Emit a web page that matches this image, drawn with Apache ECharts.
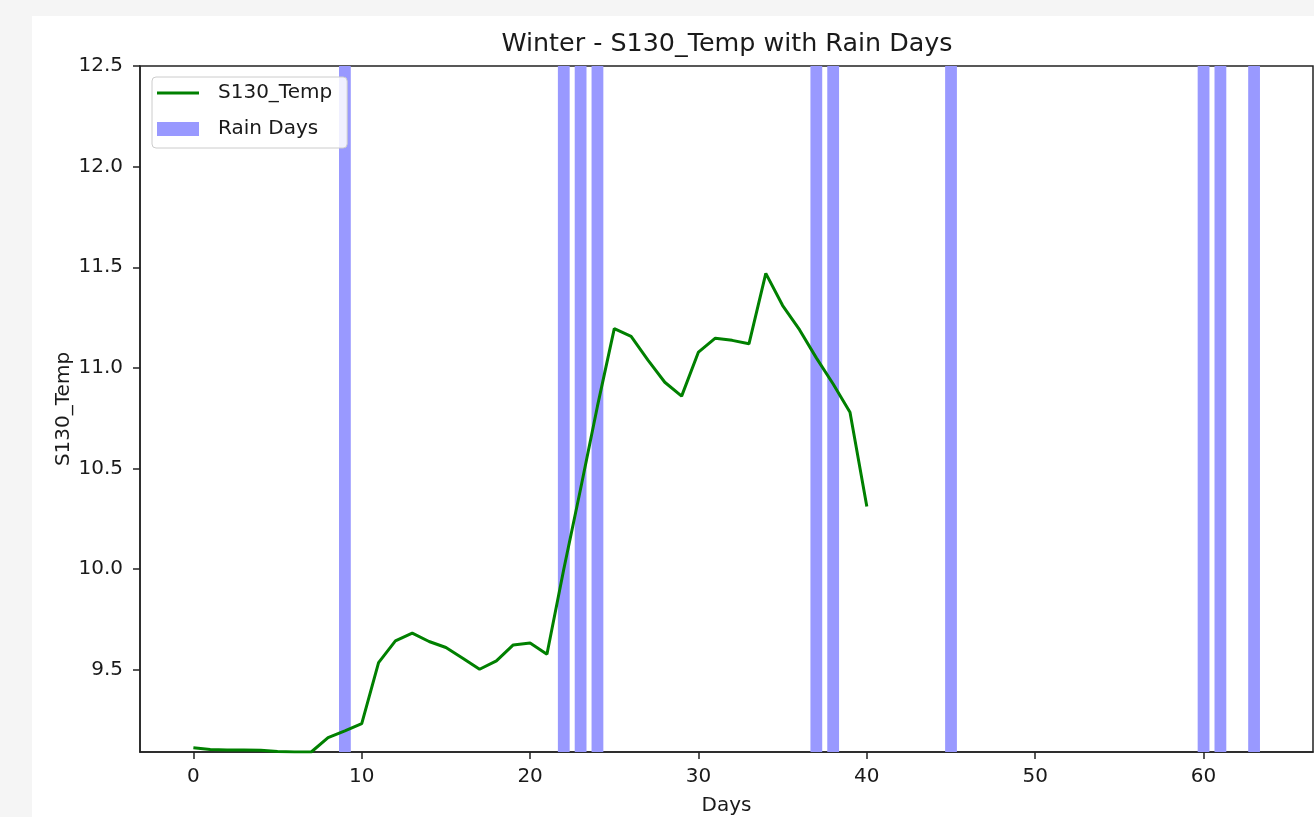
<!DOCTYPE html>
<html><head><meta charset="utf-8">
<script src="https://cdn.jsdelivr.net/npm/echarts@6/dist/echarts.min.js"></script>
<style>
html,body{margin:0;padding:0;background:#f5f5f5;overflow:hidden;width:1314px;height:817px;}
#wrap{position:absolute;left:32px;top:16px;width:1282px;height:801px;background:#fff;}
#chart{position:absolute;left:0;top:0;width:1314px;height:817px;}
</style>
</head><body><div id="wrap"></div><div id="chart"></div>
<script>
const days = [0,1,2,3,4,5,6,7,8,9,10,11,12,13,14,15,16,17,18,19,20,21,22,23,24,25,26,27,28,29,30,31,32,33,34,35,36,37,38,39,40];
const temps = [9.113,9.104,9.102,9.102,9.101,9.094,9.092,9.092,9.163,9.197,9.233,9.536,9.644,9.683,9.641,9.611,9.558,9.503,9.545,9.624,9.633,9.578,10.00,10.40,10.81,11.195,11.157,11.039,10.929,10.860,11.079,11.148,11.137,11.120,11.47,11.31,11.19,11.05,10.92,10.78,10.312];
const rainDays = [9,22,23,24,37,38,45,60,61,63];
const xTicks = [0,10,20,30,40,50,60];
const yTicks = [9.5,10.0,10.5,11.0,11.5,12.0,12.5];
const halfSpan = 0.35;

const FONT = 'DejaVu Sans';
const TXT = '#1a1a1a';
const chart = echarts.init(document.getElementById('chart'), null, {renderer:'canvas'});
const lineData = days.map((d,i)=>[d,temps[i]]);
const areas = rainDays.map(d=>[{xAxis:d-halfSpan},{xAxis:d+halfSpan}]);

chart.setOption({
  animation:false,
  backgroundColor:'transparent',
  title:{text:'Winter - S130_Temp with Rain Days', left:727, top:32, padding:0, textAlign:'center',
    textStyle:{fontFamily:FONT,fontSize:25.4,fontWeight:'normal',color:TXT}},
  grid:{left:140,right:1,top:66,bottom:65,show:true,borderColor:'#222',borderWidth:1.5,backgroundColor:'transparent',
    containLabel:false,outerBoundsMode:'none'},
  legend:{orient:'vertical',left:152,top:77,padding:[6,15,9,5],itemGap:16,itemWidth:42,itemHeight:14,
    backgroundColor:'rgba(255,255,255,0.85)',borderColor:'#cccccc',borderWidth:1,borderRadius:4,
    textStyle:{fontFamily:FONT,fontSize:20,color:TXT,padding:[0,0,0,14]},
    data:[{name:'S130_Temp',icon:'path://M0,0L0,0M0,5.5L42,5.5L42,8.5L0,8.5ZM42,14L42,14',itemStyle:{color:'#008000'}},
          {name:'Rain Days',icon:'rect',itemStyle:{color:'#9999ff'}}]},
  xAxis:{type:'value',min:-3.17,max:66.5,
    name:'Days',nameLocation:'middle',nameGap:44,nameMoveOverlap:false,nameTextStyle:{fontFamily:FONT,fontSize:20,color:TXT},
    axisLine:{show:true,onZero:false,lineStyle:{color:'#222',width:1.5}},
    axisTick:{show:true,customValues:xTicks,length:7,lineStyle:{color:'#222',width:1.5}},
    axisLabel:{customValues:xTicks,fontFamily:FONT,fontSize:20,color:TXT,margin:15},
    splitLine:{show:false}},
  yAxis:{type:'value',min:9.092,max:12.5,
    name:'S130_Temp',nameLocation:'middle',nameGap:66,nameMoveOverlap:false,nameRotate:90,nameTextStyle:{fontFamily:FONT,fontSize:20,color:TXT},
    axisLine:{show:true,onZero:false,lineStyle:{color:'#222',width:1.5}},
    axisTick:{show:true,customValues:yTicks,length:7,lineStyle:{color:'#222',width:1.5}},
    axisLabel:{customValues:yTicks,fontFamily:FONT,fontSize:20,color:TXT,margin:17,formatter:v=>v.toFixed(1)},
    splitLine:{show:false}},
  series:[
    {name:'Rain Days',type:'line',data:[],symbol:'none',itemStyle:{color:'#9999ff'},
      markArea:{silent:true,itemStyle:{color:'#9999ff',opacity:1},data:areas},z:1},
    {name:'S130_Temp',type:'line',data:lineData,symbol:'none',showSymbol:false,
      lineStyle:{color:'#008000',width:3},itemStyle:{color:'#008000'},z:3}
  ]
});
</script></body></html>
